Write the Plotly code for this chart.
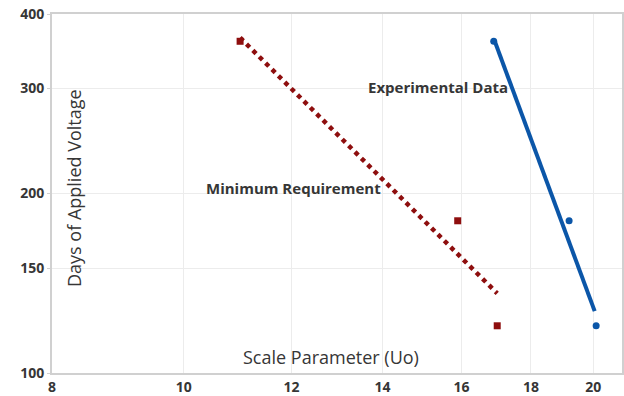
import plotly.graph_objects as go

# Data (log-log axes)
min_req_x = [11.0, 15.9, 17.0]
min_req_y = [360, 180, 120]
min_fit_x = [11.0, 17.0]
min_fit_y = [365, 136]

exp_x = [16.9, 19.2, 20.1]
exp_y = [360, 180, 120]
exp_fit_x = [16.93, 20.05]
exp_fit_y = [360, 127]

x_ticks = [8, 10, 12, 14, 16, 18, 20]
y_ticks = [100, 150, 200, 300, 400]

RED = "#8E0E0E"
BLUE = "#0B56A8"
TXT = "#363636"

fig = go.Figure()
fig.add_trace(go.Scatter(x=min_fit_x, y=min_fit_y, mode="lines",
                         line=dict(color=RED, width=4.5, dash="dot"), showlegend=False))
fig.add_trace(go.Scatter(x=min_req_x, y=min_req_y, mode="markers",
                         marker=dict(color=RED, symbol="square", size=7), showlegend=False))
fig.add_trace(go.Scatter(x=exp_fit_x, y=exp_fit_y, mode="lines",
                         line=dict(color=BLUE, width=4), showlegend=False))
fig.add_trace(go.Scatter(x=exp_x, y=exp_y, mode="markers",
                         marker=dict(color=BLUE, symbol="circle", size=7), showlegend=False))


def px_x(p):
    return (p - 52) / 570


def px_y(p):
    return (373 - p) / 359


ann = dict(xref="paper", yref="paper", showarrow=False, xanchor="center", yanchor="middle")
fig.add_annotation(text="<b>Experimental Data</b>", x=px_x(438), y=px_y(87),
                   font=dict(size=15, color=TXT, family="Open Sans"), **ann)
fig.add_annotation(text="<b>Minimum Requirement</b>", x=px_x(293), y=px_y(188),
                   font=dict(size=15, color=TXT, family="Open Sans"), **ann)
fig.add_annotation(text="Days of Applied Voltage", x=px_x(74), y=px_y(188), textangle=-90,
                   font=dict(size=18, color=TXT, family="Open Sans"), **ann)
fig.add_annotation(text="Scale Parameter (Uo)", x=px_x(331), y=px_y(357),
                   font=dict(size=18, color=TXT, family="Open Sans"), **ann)

fig.update_layout(
    width=624, height=396,
    margin=dict(l=52, r=2, t=14, b=23),
    paper_bgcolor="white", plot_bgcolor="white",
    font=dict(family="Open Sans", color=TXT),
)
fig.update_xaxes(type="log", range=[0.90309, 1.3222], tickvals=x_ticks,
                 ticktext=[f"<b>{v}</b>" for v in x_ticks], automargin=False,
                 tickfont=dict(size=14, color=TXT), showgrid=True, gridcolor="#ececec",
                 showline=True, linecolor="#d0d0d0", linewidth=2, mirror=True,
                 ticks="", zeroline=False)
fig.update_yaxes(type="log", range=[2, 2.60206], tickvals=y_ticks,
                 ticktext=[f"<b>{v}</b>" for v in y_ticks], automargin=False,
                 tickfont=dict(size=14, color=TXT), showgrid=True, gridcolor="#ececec",
                 showline=True, linecolor="#d0d0d0", linewidth=2, mirror=True,
                 ticks="outside", ticklen=3, tickcolor="#d0d0d0", zeroline=False)

fig.write_html("out.html", config={"displayModeBar": False},
               post_script="document.body.style.margin='0';document.body.style.overflow='hidden';")
